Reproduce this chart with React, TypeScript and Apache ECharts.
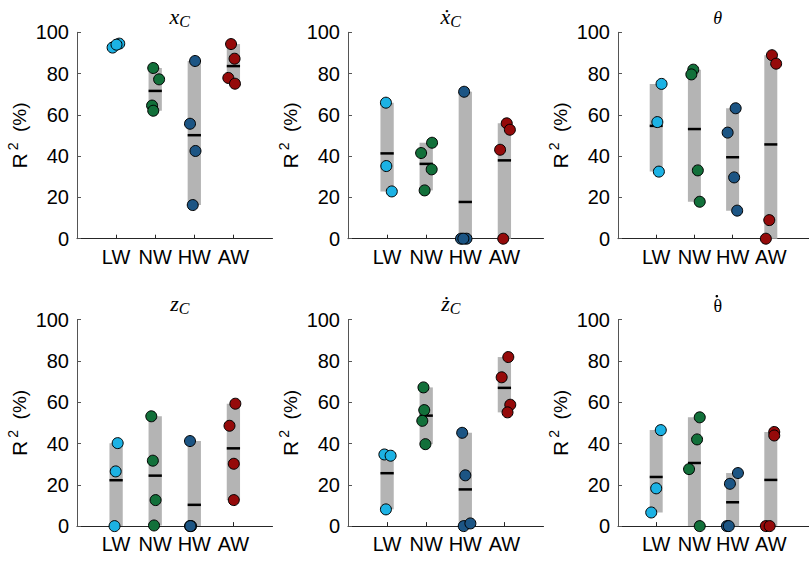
import React, { useEffect, useRef } from "react";
import * as echarts from "echarts";

const categories = ["LW", "NW", "HW", "AW"];
const groupColors = ["#1cb2e4", "#12703a", "#1c5584", "#950a0a"];

// panel 1: x_C
const xC_LW = [92.6, 94.5, 94.0];
const xC_LW_jit = [-0.09, 0.08, 0.01];
const xC_NW = [82.7, 77.2, 64.5, 62.0];
const xC_NW_jit = [-0.05, 0.1, -0.08, -0.05];
const xC_HW = [86.1, 55.7, 42.5, 16.3];
const xC_HW_jit = [0.02, -0.11, 0.03, -0.04];
const xC_AW = [94.3, 87.2, 77.9, 75.1];
const xC_AW_jit = [-0.06, 0.03, -0.13, 0.04];

// panel 2: x_C dot
const xd_LW = [65.9, 35.2, 22.9];
const xd_LW_jit = [-0.03, -0.02, 0.12];
const xd_NW = [41.5, 46.5, 33.6, 23.4];
const xd_NW_jit = [-0.13, 0.15, 0.14, -0.04];
const xd_HW = [71.2, 0, 0, 0];
const xd_HW_jit = [-0.03, -0.11, 0.03, -0.05];
const xd_AW = [55.9, 52.8, 43.1, 0];
const xd_AW_jit = [0.06, 0.14, -0.11, -0.03];

// panel 3: theta
const th_LW = [75.0, 56.5, 32.5];
const th_LW_jit = [0.14, 0.03, 0.07];
const th_NW = [81.9, 79.6, 33.1, 17.9];
const th_NW_jit = [-0.03, -0.08, 0.09, 0.14];
const th_HW = [63.2, 51.4, 29.7, 13.6];
const th_HW_jit = [0.08, -0.13, 0.04, 0.12];
const th_AW = [88.9, 84.8, 9.0, 0];
const th_AW_jit = [0.03, 0.14, -0.04, -0.13];

// panel 4: z_C
const zC_LW = [40.2, 26.5, 0];
const zC_LW_jit = [0.04, -0.01, -0.04];
const zC_NW = [53.2, 31.7, 12.6, 0.3];
const zC_NW_jit = [-0.1, -0.06, 0.01, -0.03];
const zC_HW = [41.2, 0, 0, 0];
const zC_HW_jit = [-0.11, -0.11, -0.08, -0.1];
const zC_AW = [59.3, 48.6, 30.2, 12.6];
const zC_AW_jit = [0.05, -0.1, 0.01, 0.01];

// panel 5: z_C dot
const zd_LW = [34.7, 34.1, 8.1];
const zd_LW_jit = [-0.07, 0.09, -0.03];
const zd_NW = [67.2, 56.2, 51.0, 39.7];
const zd_NW_jit = [-0.07, -0.05, -0.1, -0.02];
const zd_HW = [45.2, 24.6, 0, 1.3];
const zd_HW_jit = [-0.08, 0.0, -0.04, 0.13];
const zd_AW = [81.9, 72.1, 58.8, 55.1];
const zd_AW_jit = [0.1, -0.07, 0.15, 0.08];

// panel 6: theta dot
const td_LW = [46.5, 18.3, 6.6];
const td_LW_jit = [0.12, 0.0, -0.13];
const td_NW = [52.7, 42.0, 27.6, 0];
const td_NW_jit = [0.14, 0.07, -0.14, 0.14];
const td_HW = [25.7, 20.5, 0, 0];
const td_HW_jit = [0.14, -0.07, -0.15, -0.1];
const td_AW = [45.6, 43.9, 0, 0];
const td_AW_jit = [0.09, 0.09, -0.13, -0.03];

const panels = [
  { main: "x", sub: "C", dot: false, italic: true, size: 22, values: [xC_LW, xC_NW, xC_HW, xC_AW], jit: [xC_LW_jit, xC_NW_jit, xC_HW_jit, xC_AW_jit] },
  { main: "\u1E8B", sub: "C", dot: false, italic: true, size: 22, values: [xd_LW, xd_NW, xd_HW, xd_AW], jit: [xd_LW_jit, xd_NW_jit, xd_HW_jit, xd_AW_jit] },
  { main: "\u03B8", sub: "", dot: false, italic: true, size: 18, values: [th_LW, th_NW, th_HW, th_AW], jit: [th_LW_jit, th_NW_jit, th_HW_jit, th_AW_jit] },
  { main: "z", sub: "C", dot: false, italic: true, size: 22, values: [zC_LW, zC_NW, zC_HW, zC_AW], jit: [zC_LW_jit, zC_NW_jit, zC_HW_jit, zC_AW_jit] },
  { main: "\u017C", sub: "C", dot: false, italic: true, size: 22, values: [zd_LW, zd_NW, zd_HW, zd_AW], jit: [zd_LW_jit, zd_NW_jit, zd_HW_jit, zd_AW_jit] },
  { main: "\u03B8", sub: "", dot: true, italic: false, size: 18, values: [td_LW, td_NW, td_HW, td_AW], jit: [td_LW_jit, td_NW_jit, td_HW_jit, td_AW_jit] },
];

const gridLefts = [77, 348, 618];
const gridTops = [32.3, 319.7];
const gridW = 195.5;
const gridH = 206.4;
const halfW = 0.17;

export default function App() {
  const ref = useRef<HTMLDivElement>(null);
  useEffect(() => {
    if (!ref.current) return;
    const chart = echarts.init(ref.current, null, { renderer: "svg" });
    const grids: any[] = [];
    const xAxes: any[] = [];
    const yAxes: any[] = [];
    const titles: any[] = [];
    const graphics: any[] = [];
    const series: any[] = [];
    const axisColor = "#262626";
    panels.forEach((p, i) => {
      const col = i % 3;
      const row = Math.floor(i / 3);
      const left = gridLefts[col];
      const top = gridTops[row];
      grids.push({ left, top, width: gridW, height: gridH, containLabel: false });
      xAxes.push({
        gridIndex: i,
        type: "value",
        min: 0,
        max: 5,
        interval: 1,
        axisLine: { show: true, lineStyle: { color: axisColor, width: 1 } },
        axisTick: { show: true, inside: true, length: 4, customValues: [1, 2, 3, 4], lineStyle: { color: axisColor } },
        axisLabel: {
          customValues: [1, 2, 3, 4],
          formatter: (v: number) => categories[Math.round(v) - 1] || "",
          fontSize: 20,
          color: "#000",
          fontFamily: "Liberation Sans",
          margin: 8,
        },
        splitLine: { show: false },
      });
      yAxes.push({
        gridIndex: i,
        type: "value",
        min: 0,
        max: 100,
        interval: 20,
        axisLine: { show: true, lineStyle: { color: "#555", width: 1 } },
        axisTick: { show: true, inside: true, length: 4, lineStyle: { color: "#555" } },
        axisLabel: { fontSize: 20, color: "#000", fontFamily: "Liberation Sans", margin: 8 },
        splitLine: { show: false },
        name: "{r|R}{s|2}{p|  (%)}",
        nameLocation: "middle",
        nameRotate: 90,
        nameGap: 45,
        nameTextStyle: {
          fontSize: 20,
          fontFamily: "Liberation Sans",
          color: "#000",
          rich: {
            r: { fontSize: 21, fontFamily: "Liberation Sans", color: "#000", lineHeight: 26 },
            s: { fontSize: 14, fontFamily: "Liberation Sans", color: "#000", lineHeight: 16, verticalAlign: "top", padding: [0, 0, 0, 3] },
            p: { fontSize: 19, fontFamily: "Liberation Sans", color: "#000", lineHeight: 26 },
          },
        },
      });
      const cx = left + gridW * 0.5;
      titles.push({
        left: p.sub ? cx : cx - 3,
        top: top - 34 + (p.sub ? 0 : 2),
        textAlign: "center",
        text: p.sub ? `{m|${p.main}}{s|${p.sub}}` : `{m|${p.main}}`,
        textStyle: {
          fontWeight: "normal",
          fontFamily: "Liberation Serif",
          rich: {
            m: { fontSize: p.size, fontFamily: "Liberation Serif", fontStyle: p.italic ? "italic" : "normal", fontWeight: "normal", color: "#000", lineHeight: 26 },
            s: { fontSize: 16, fontFamily: "Liberation Serif", fontStyle: "italic", fontWeight: "normal", color: "#000", lineHeight: 12, verticalAlign: "bottom" },
          },
        },
      });
      if (p.dot) {
        graphics.push({
          type: "circle",
          left: cx - 0.2,
          top: top - 24.8,
          shape: { r: 1.3 },
          style: { fill: "#000" },
        });
      }
      // range bars
      series.push({
        type: "custom",
        xAxisIndex: i,
        yAxisIndex: i,
        z: 1,
        data: p.values.map((vals, k) => [k + 1, Math.min(...vals), Math.max(...vals)]),
        encode: { x: 0, y: [1, 2] },
        renderItem: (params: any, api: any) => {
          const x = api.value(0);
          const lo = api.value(1);
          const hi = api.value(2);
          const p1 = api.coord([x - halfW, hi]);
          const p2 = api.coord([x + halfW, lo]);
          return {
            type: "rect",
            shape: { x: p1[0], y: p1[1], width: p2[0] - p1[0], height: p2[1] - p1[1] },
            style: { fill: "#b4b4b4" },
          };
        },
      });
      // mean lines
      series.push({
        type: "custom",
        xAxisIndex: i,
        yAxisIndex: i,
        z: 2,
        data: p.values.map((vals, k) => [k + 1, vals.reduce((a, b) => a + b, 0) / vals.length]),
        encode: { x: 0, y: 1 },
        renderItem: (params: any, api: any) => {
          const x = api.value(0);
          const m = api.value(1);
          const p1 = api.coord([x - halfW, m]);
          const p2 = api.coord([x + halfW, m]);
          return {
            type: "line",
            shape: { x1: p1[0], y1: p1[1], x2: p2[0], y2: p2[1] },
            style: { stroke: "#000", lineWidth: 2.5 },
          };
        },
      });
      // points
      p.values.forEach((vals, k) => {
        series.push({
          type: "scatter",
          xAxisIndex: i,
          yAxisIndex: i,
          z: 3,
          clip: false,
          symbol: "circle",
          symbolSize: 11,
          itemStyle: { color: groupColors[k], borderColor: "#000", borderWidth: 1, opacity: 1 },
          data: vals.map((v, j) => [k + 1 + p.jit[k][j], v]),
        });
      });
    });
    chart.setOption({
      animation: false,
      backgroundColor: "#fff",
      title: titles,
      graphic: graphics,
      grid: grids,
      xAxis: xAxes,
      yAxis: yAxes,
      series,
    });
    return () => chart.dispose();
  }, []);
  return <div ref={ref} style={{ position: "fixed", left: 0, top: 0, width: 809, height: 562 }} />;
}
